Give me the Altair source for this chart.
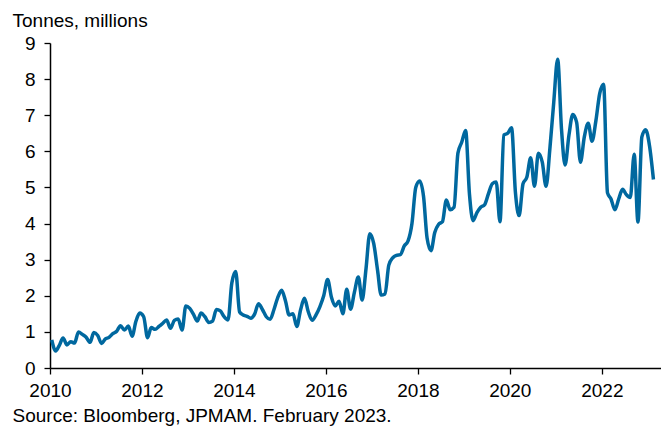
import altair as alt
import pandas as pd

# Monthly values, Jan 2010 - Feb 2023 (tonnes, millions)
v2010 = [0.78, 0.47, 0.62, 0.83, 0.64, 0.73, 0.69, 1.00, 0.93, 0.85, 0.71, 0.98]
v2011 = [0.90, 0.68, 0.80, 0.85, 0.95, 1.02, 1.17, 1.05, 1.16, 0.88, 1.30, 1.52]
v2012 = [1.42, 0.84, 1.12, 1.07, 1.15, 1.24, 1.33, 1.10, 1.32, 1.36, 1.05, 1.72]
v2013 = [1.65, 1.48, 1.30, 1.52, 1.42, 1.26, 1.30, 1.62, 1.58, 1.42, 1.33, 2.35]
v2014 = [2.67, 1.55, 1.47, 1.43, 1.38, 1.50, 1.78, 1.62, 1.42, 1.35, 1.62, 1.95]
v2015 = [2.15, 1.85, 1.47, 1.50, 1.15, 1.62, 1.93, 1.55, 1.32, 1.47, 1.70, 2.00]
v2016 = [2.45, 1.95, 1.72, 1.85, 1.50, 2.18, 1.63, 2.10, 2.52, 1.88, 2.75, 3.72]
v2017 = [3.45, 2.70, 2.02, 2.05, 2.85, 3.05, 3.12, 3.14, 3.38, 3.52, 4.00, 5.00]
v2018 = [5.18, 4.75, 3.60, 3.25, 3.75, 3.98, 4.05, 4.65, 4.38, 4.45, 5.95, 6.25]
v2019 = [6.58, 4.80, 4.08, 4.30, 4.45, 4.52, 4.82, 5.10, 5.15, 4.05, 6.45, 6.50]
v2020 = [6.65, 4.85, 4.22, 5.10, 5.28, 5.82, 5.03, 5.95, 5.70, 5.03, 6.10, 7.35]
v2021 = [8.55, 6.60, 5.62, 6.45, 7.02, 6.80, 5.70, 6.40, 6.78, 6.28, 6.85, 7.60]
v2022 = [7.86, 4.85, 4.68, 4.38, 4.68, 4.95, 4.80, 4.72, 5.92, 4.04, 6.40, 6.60]
v2023 = [6.15, 5.22]

values = (v2010 + v2011 + v2012 + v2013 + v2014 + v2015 + v2016 + v2017
          + v2018 + v2019 + v2020 + v2021 + v2022 + v2023)
dates = pd.date_range("2010-01-01", periods=len(values), freq="MS") + pd.Timedelta(days=14)
df = pd.DataFrame({"date": dates, "value": values})

tick_years = [2010, 2012, 2014, 2016, 2018, 2020, 2022]
y_ticks = list(range(0, 10))

FONT = "Liberation Sans"

chart = alt.Chart(df).mark_line(
    color="#00689F", strokeWidth=3.5, interpolate="monotone"
).encode(
    x=alt.X(
        "date:T",
        scale=alt.Scale(domain=[alt.DateTime(year=2010, month=1, date=1),
                                alt.DateTime(year=2023, month=4, date=16)]),
        axis=alt.Axis(
            values=[alt.DateTime(year=y, month=1, date=1) for y in tick_years],
            format="%Y",
            title="Source: Bloomberg, JPMAM. February 2023.",
            titleX=-38, titleY=53, titleAlign="left", titleBaseline="alphabetic",
            titleAnchor="start",
            titleFont=FONT, titleFontSize=19, titleFontWeight="normal", titleColor="#000000",
            labelFont=FONT, labelFontSize=19, labelColor="#000000",
            labelBaseline="alphabetic", labelPadding=22, labelFlush=False,
            tickSize=6, tickColor="#000000", tickWidth=1.3,
            domainColor="#000000", domainWidth=1.3, grid=False,
        ),
    ),
    y=alt.Y(
        "value:Q",
        scale=alt.Scale(domain=[0, 9], nice=False),
        axis=alt.Axis(
            values=y_ticks,
            title="Tonnes, millions",
            titleAngle=0, titleX=-38, titleY=-17, titleAlign="left",
            titleBaseline="alphabetic", titleAnchor="start",
            titleFont=FONT, titleFontSize=19, titleFontWeight="normal", titleColor="#000000",
            labelFont=FONT, labelFontSize=19, labelColor="#000000", labelPadding=9,
            tickSize=6, tickColor="#000000", tickWidth=1.3,
            domainColor="#000000", domainWidth=1.5,
            grid=True, gridColor="#FFFFFF", gridWidth=2.5,
        ),
    ),
).properties(
    width=611,
    height=325,
    autosize="none",
    padding={"left": 42, "top": 35, "right": 0, "bottom": 58},
).configure_view(
    fill="#E6EFF2", stroke=None
).configure(background="#FFFFFF")

chart.save("out.html", embed_options={"renderer": "svg", "actions": False})
